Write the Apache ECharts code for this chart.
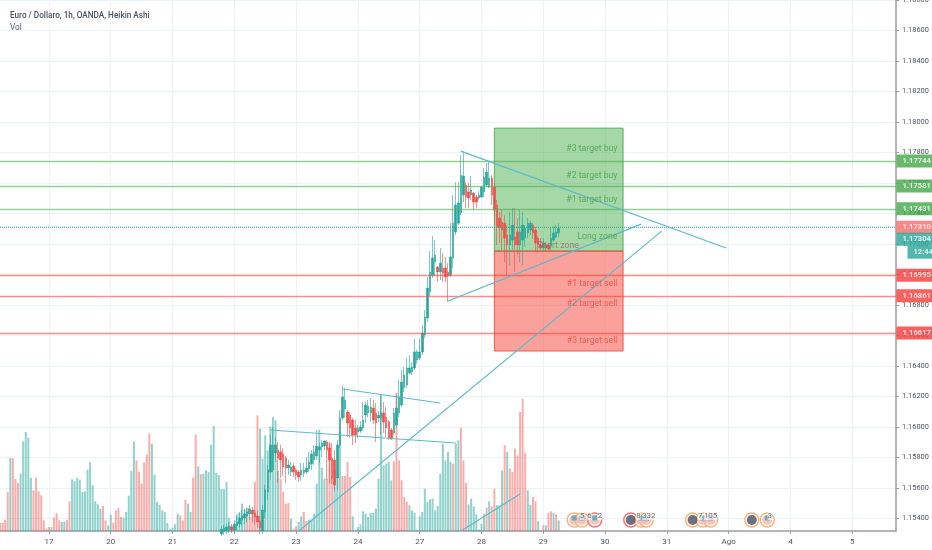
<!DOCTYPE html>
<html>
<head>
<meta charset="utf-8">
<style>html,body{margin:0;padding:0;background:#fff}#c{width:932px;height:550px}</style>
<script src="https://cdn.jsdelivr.net/npm/echarts@6/dist/echarts.min.js"></script>
</head>
<body>
<div id="c"></div>
<script>
const chartTitle = 'Euro / Dollaro, 1h, OANDA, Heikin Ashi';
const volumeTitle = 'Vol';
const dayLabels = {19:'17',43:'20',67:'21',91:'22',115:'23',139:'24',163:'27',187:'28',211:'29',235:'30',259:'31',283:'Ago',307:'4',331:'5'};
const barCount = 349;
const priceTicks = [1.188,1.186,1.184,1.182,1.18,1.178,1.176,1.174,1.172,1.17,1.168,1.166,1.164,1.162,1.16,1.158,1.156,1.154];

// hourly volume, relative units, starting at bar 0
const volumes = [24,24,34,117,219,219,156,144,172,269,297,280,160,122,160,119,107,32,7,12,12,41,53,32,27,28,34,89,155,149,160,154,117,119,184,206,137,89,80,67,75,32,17,49,25,62,69,42,40,57,106,180,269,212,178,142,206,230,292,262,168,87,79,62,57,24,5,10,20,52,47,32,94,82,57,160,289,194,170,172,182,177,259,315,174,168,126,125,147,39,17,19,50,54,82,64,70,42,55,147,347,307,217,287,242,314,342,332,180,157,117,82,84,37,7,14,27,44,57,30,34,34,52,142,304,190,157,157,264,162,184,165,297,165,165,207,162,44,2,12,20,59,52,42,55,54,67,157,407,197,202,207,152,209,414,212,152,102,87,77,62,55,4,44,57,127,87,95,97,62,75,172,262,212,237,207,202,262,272,310,212,144,80,97,74,50,5,22,52,70,89,74,127,77,77,182,257,237,188,177,247,227,357,397,235,122,79,102,89,29,1,17,17,55,59,54,50,32];
const volumeDirs = 'rrrrgrrrgggggrrrrrrrgrrrggrrggggggggggggrrggrrrrgggggrrrrrrgggggggggggrrrggrrgrgggggggggggggggggrrrrrggggggggrrrrgrrggrrgggggggrrrgggrrrrggggggggggggggggrrrrrrgggggggggggggggggrggrrrgggggggrgrrgggrgrrrrrrrggrrggrgrrgrgggrgggg';

// Heikin Ashi candles [open, close, low, high]; first candle is at bar candleStart
const candleStart = 86;
const candles = [
[1.15300,1.15332,1.15287,1.15352],[1.15313,1.15339,1.15293,1.15359],[1.15319,1.15346,1.15300,1.15365],[1.15326,1.15352,1.15306,1.15378],[1.15346,1.15326,1.15306,1.15365],
[1.15326,1.15365,1.15313,1.15391],[1.15352,1.15378,1.15326,1.15417],[1.15365,1.15404,1.15339,1.15444],[1.15391,1.15417,1.15352,1.15457],[1.15404,1.15431,1.15365,1.15464],
[1.15417,1.15444,1.15378,1.15470],[1.15431,1.15464,1.15391,1.15490],[1.15457,1.15431,1.15378,1.15477],[1.15437,1.15411,1.15359,1.15457],[1.15417,1.15378,1.15339,1.15450],
[1.15385,1.15339,1.15300,1.15417],[1.15319,1.15457,1.15300,1.15490],[1.15444,1.15588,1.15404,1.15621],[1.15575,1.15719,1.15523,1.15752],[1.15706,1.15883,1.15654,1.15949],
[1.15719,1.15883,1.15706,1.16001],[1.15831,1.15883,1.15772,1.15935],[1.15850,1.15798,1.15634,1.15903],[1.15837,1.15785,1.15667,1.15883],[1.15824,1.15739,1.15680,1.15863],
[1.15798,1.15732,1.15634,1.15811],[1.15732,1.15752,1.15686,1.15785],[1.15706,1.15739,1.15680,1.15772],[1.15745,1.15706,1.15673,1.15765],[1.15719,1.15686,1.15654,1.15732],
[1.15706,1.15673,1.15641,1.15719],[1.15686,1.15719,1.15647,1.15765],[1.15699,1.15719,1.15673,1.15765],[1.15706,1.15732,1.15693,1.15804],[1.15726,1.15772,1.15706,1.15837],
[1.15759,1.15824,1.15719,1.15850],[1.15785,1.15837,1.15752,1.15883],[1.15811,1.15876,1.15785,1.15981],[1.15850,1.15870,1.15765,1.15896],[1.15870,1.15896,1.15804,1.15916],
[1.15876,1.15909,1.15850,1.15916],[1.15903,1.15850,1.15654,1.15916],[1.15863,1.15785,1.15634,1.15903],[1.15798,1.15667,1.15627,1.15896],[1.15785,1.15621,1.15581,1.15850],
[1.15667,1.15883,1.15588,1.15916],[1.15883,1.16060,1.15863,1.16112],[1.16060,1.16198,1.16047,1.16270],[1.16119,1.16178,1.16060,1.16257],[1.16099,1.16027,1.15935,1.16112],
[1.16079,1.15994,1.15929,1.16099],[1.16047,1.15949,1.15883,1.16060],[1.15994,1.15949,1.15896,1.16047],[1.15968,1.15994,1.15929,1.16014],[1.15975,1.16001,1.15962,1.16040],
[1.15994,1.16047,1.15975,1.16165],[1.16079,1.16145,1.16027,1.16165],[1.16093,1.16139,1.16066,1.16178],[1.16093,1.16132,1.16034,1.16191],[1.16125,1.16047,1.16021,1.16178],
[1.16093,1.16027,1.15903,1.16158],[1.16060,1.16079,1.16034,1.16106],[1.16060,1.16093,1.15949,1.16211],[1.16093,1.16034,1.15962,1.16165],[1.16066,1.15994,1.15935,1.16132],
[1.16034,1.15929,1.15916,1.16047],[1.15981,1.15922,1.15916,1.15994],[1.15962,1.16093,1.15949,1.16125],[1.16014,1.16125,1.16001,1.16211],[1.16093,1.16198,1.16066,1.16309],
[1.16145,1.16296,1.16132,1.16374],[1.16257,1.16342,1.16230,1.16394],[1.16276,1.16388,1.16257,1.16453],[1.16355,1.16388,1.16342,1.16473],[1.16361,1.16394,1.16342,1.16427],
[1.16388,1.16493,1.16374,1.16578],[1.16440,1.16493,1.16414,1.16506],[1.16453,1.16493,1.16440,1.16578],[1.16493,1.16617,1.16473,1.16670],[1.16604,1.16722,1.16584,1.16768],
[1.16715,1.16912,1.16689,1.16984],[1.16886,1.17017,1.16859,1.17154],[1.16997,1.17108,1.16977,1.17252],[1.17082,1.17128,1.16990,1.17226],[1.17049,1.17017,1.16951,1.17056],
[1.17017,1.17075,1.16964,1.17174],[1.17043,1.17010,1.16951,1.17141],[1.17043,1.16984,1.16951,1.17115],[1.17017,1.16990,1.16820,1.17075],[1.16997,1.17115,1.16984,1.17337],
[1.17108,1.17337,1.17043,1.17521],[1.17279,1.17456,1.17259,1.17606],[1.17337,1.17469,1.17325,1.17606],[1.17403,1.17652,1.17390,1.17783],[1.17521,1.17646,1.17475,1.17810],
[1.17587,1.17508,1.17436,1.17606],[1.17541,1.17502,1.17436,1.17600],[1.17521,1.17554,1.17488,1.17646],[1.17534,1.17475,1.17423,1.17541],[1.17508,1.17475,1.17436,1.17521],
[1.17502,1.17521,1.17488,1.17547],[1.17508,1.17574,1.17502,1.17580],[1.17541,1.17639,1.17508,1.17698],[1.17587,1.17672,1.17574,1.17731],[1.17574,1.17633,1.17567,1.17744],
[1.17633,1.17521,1.17456,1.17652],[1.17574,1.17423,1.17325,1.17600],[1.17456,1.17311,1.17194,1.17488],[1.17370,1.17311,1.17207,1.17410],[1.17344,1.17292,1.17161,1.17423],
[1.17337,1.17239,1.17082,1.17390],[1.17259,1.17194,1.16997,1.17325],[1.17194,1.17259,1.17062,1.17410],[1.17226,1.17325,1.17161,1.17436],[1.17246,1.17194,1.17017,1.17436],
[1.17279,1.17194,1.17128,1.17370],[1.17194,1.17279,1.17082,1.17423],[1.17226,1.17325,1.17062,1.17410],[1.17239,1.17305,1.17181,1.17325],[1.17272,1.17337,1.17239,1.17370],
[1.17292,1.17337,1.17259,1.17351],[1.17325,1.17272,1.17233,1.17337],[1.17292,1.17207,1.17148,1.17311],[1.17239,1.17194,1.17141,1.17253],[1.17194,1.17174,1.17161,1.17239],
[1.17174,1.17207,1.17161,1.17239],[1.17194,1.17174,1.17148,1.17213],[1.17194,1.17168,1.17161,1.17207],[1.17194,1.17239,1.17161,1.17305],[1.17226,1.17272,1.17213,1.17319],
[1.17246,1.17279,1.17239,1.17325],[1.17272,1.17304,1.17246,1.17337]
];

// price levels
const buyLevels = [1.17744,1.17581,1.17431];
const sellLevels = [1.16995,1.16861,1.16617];
const pivotLevel = 1.1731;
const lastPrice = 1.17304;
const countdown = '12:44';

// long / short zones
const zoneBars = [192,242];
const longZone = [1.1796,1.17154];
const shortZone = [1.17154,1.16499];
const zoneNotes = [
  ['#3 target buy',240,1.17823,'buy'],['#2 target buy',240,1.17646,'buy'],['#1 target buy',240,1.17488,'buy'],['Long zone',240,1.17246,'buy'],
  ['Short zone',225,1.17187,'mid'],
  ['#1 target sell',240,1.16938,'sell'],['#2 target sell',240,1.16807,'sell'],['#3 target sell',240,1.16564,'sell']
];

// hand-drawn trend lines [bar, price] pairs
const trendLines = [
  [[179,1.17809],[282,1.17174]],
  [[174,1.16827],[249,1.17331]],
  [[116,1.15319],[257,1.17285]],
  [[133,1.16250],[171,1.16158]],
  [[105,1.15981],[177,1.15896]],
  [[179,1.15319],[202,1.15562]]
];

// calendar events on the time scale [bar, kind, ring colour]
const eventLevel = 33;
const eventMarks = [
  [223,'flag','#f5a35c'],[226,'flag','#f5a35c'],[231,'flag','#ef5350'],
  [245,'dark','#ef5350'],[249,'flag','#f5a35c'],[251,'flag','#f5a35c'],
  [269,'dark','#f5a35c'],[273,'flag','#f5a35c'],[276,'flag','#f5a35c'],
  [292,'dark','#f5a35c'],[298,'flag','#f5a35c']
];
const eventTexts = [[226,'5'],[229,'6'],[233,'2'],[248,'8'],[252,'332'],[272,'7'],[276,'105'],[299,'3']];

const UP = '#26a69a', DOWN = '#f44b47', GREY = '#50535e';
const FONT = 'Roboto, "Noto Sans", sans-serif';
const categories = Array.from({length: barCount}, (_, i) => String(i));
const candleData = categories.map((_, i) => {
  const c = candles[i - candleStart];
  return c ? c : '-';
});
const isDay = (i) => dayLabels[i] !== undefined;
const tagOf = (text, bg) => ({
  value: [barCount - 1, parseFloat(text)],
  label: {formatter: text, backgroundColor: bg}
});

const levelLine = (v, color, width, type, opacity) => ({
  yAxis: v, lineStyle: {color, width, type: type || 'solid', opacity: opacity == null ? 1 : opacity}
});

const option = {
  animation: false,
  backgroundColor: '#fff',
  title: [
    {text: chartTitle, left: 5, top: 7, textStyle: {fontFamily: FONT, fontSize: 8.2, fontWeight: 500, color: '#4c525e'}},
    {text: volumeTitle, left: 5, top: 19, textStyle: {fontFamily: FONT, fontSize: 8.2, fontWeight: 400, color: '#5a6070'}}
  ],
  grid: {left: 0, right: 36, top: 0, bottom: 19, containLabel: false, outerBoundsMode: 'none'},
  xAxis: {
    type: 'category', data: categories, boundaryGap: false,
    axisLine: {lineStyle: {color: '#9a9da5', width: 1.5}},
    axisTick: {interval: (i) => isDay(i), length: 3, lineStyle: {color: '#9a9da5'}},
    splitLine: {show: true, interval: (i) => isDay(i), lineStyle: {color: '#edf2f7', width: 1}},
    axisLabel: {
      interval: (i) => isDay(i), formatter: (v) => dayLabels[v] || '',
      color: GREY, fontSize: 8, fontFamily: FONT, margin: 7
    }
  },
  yAxis: [
    {
      type: 'value', position: 'right', min: 1.15319, max: 1.18800, scale: true,
      axisLine: {show: true, lineStyle: {color: '#9a9da5', width: 1.5}},
      axisTick: {show: true, length: 3, customValues: priceTicks, lineStyle: {color: '#9a9da5'}},
      splitLine: {show: true, lineStyle: {color: '#edf2f7', width: 1}},
      axisLabel: {
        customValues: priceTicks, formatter: (v) => v.toFixed(5),
        color: GREY, fontSize: 7.4, fontFamily: FONT, margin: 6,
        showMinLabel: true, showMaxLabel: true
      }
    },
    {type: 'value', min: 0, max: 1593, show: false}
  ],
  series: [
    {
      name: 'Vol', type: 'bar', yAxisIndex: 1, barWidth: 2, z: 1, silent: true,
      data: volumes.map((v, i) => ({
        value: v,
        itemStyle: {color: volumeDirs[i] === 'g' ? 'rgba(38,166,154,0.5)' : 'rgba(244,75,71,0.45)'}
      }))
    },
    {
      name: 'zones', type: 'line', yAxisIndex: 0, data: [], z: 2, silent: true,
      markArea: {
        silent: true, z: 2,
        data: [
          [{xAxis: String(zoneBars[0]), yAxis: longZone[0], itemStyle: {color: 'rgba(76,175,80,0.5)', borderColor: 'rgba(60,160,70,0.8)', borderWidth: 1}},
           {xAxis: String(zoneBars[1]), yAxis: longZone[1]}],
          [{xAxis: String(zoneBars[0]), yAxis: shortZone[0], itemStyle: {color: 'rgba(244,67,54,0.5)', borderColor: 'rgba(244,67,54,0.85)', borderWidth: 1}},
           {xAxis: String(zoneBars[1]), yAxis: shortZone[1]}]
        ]
      }
    },
    {
      name: 'EURUSD', type: 'candlestick', yAxisIndex: 0, barWidth: 2, z: 3, silent: true,
      data: candleData,
      itemStyle: {color: UP, color0: DOWN, borderColor: 'rgba(38,166,154,0.6)', borderColor0: 'rgba(244,75,71,0.6)', borderWidth: 1}
    },
    {
      name: 'levels', type: 'line', yAxisIndex: 0, data: [], z: 5, silent: true,
      markLine: {
        silent: true, symbol: 'none', z: 5, label: {show: false}, animation: false, precision: 5,
        data: [
          ...buyLevels.map((v) => levelLine(v, '#4caf50', 1.3, 'solid', 0.6)),
          ...sellLevels.map((v) => levelLine(v, '#f44336', 1.3, 'solid', 0.6))
        ]
      }
    },
    {
      name: 'pivot', type: 'line', yAxisIndex: 0, z: 5, silent: true, symbol: 'none',
      data: [[0, pivotLevel], [barCount - 1, pivotLevel]],
      lineStyle: {color: '#26a69a', width: 1, type: [1, 1]}
    },
    ...trendLines.map((pts, k) => ({
      name: 'trend' + k, type: 'line', yAxisIndex: 0, data: pts, z: 6, silent: true,
      symbol: 'none', lineStyle: {color: '#5fb9cb', width: 1.2}
    })),
    {
      name: 'notes', type: 'scatter', yAxisIndex: 0, z: 7, silent: true, clip: false,
      symbolSize: 1, itemStyle: {color: 'rgba(0,0,0,0)'},
      data: zoneNotes.map((n) => ({
        value: [n[1], n[2]],
        label: {
          show: true, position: 'left', distance: 0, formatter: n[0], fontFamily: FONT, fontSize: 8.7,
          color: n[3] === 'buy' ? '#46a24a' : n[3] === 'sell' ? '#f04a42' : '#9a6a66'
        }
      }))
    },
    {
      name: 'eventRings', type: 'scatter', yAxisIndex: 1, z: 8, silent: true, symbolSize: 14,
      data: eventMarks.map((e) => ({
        value: [e[0], eventLevel],
        itemStyle: {color: '#fff', borderColor: e[2], borderWidth: 1.5}
      }))
    },
    {
      name: 'eventCores', type: 'scatter', yAxisIndex: 1, z: 9, silent: true, symbolSize: 10,
      data: eventMarks.map((e) => ({
        value: [e[0], eventLevel],
        itemStyle: {color: e[1] === 'dark' ? '#4b4f5e' : '#f7b6ae'}
      }))
    },
    {
      name: 'eventFlags', type: 'scatter', yAxisIndex: 1, z: 10, silent: true, symbol: 'rect', symbolSize: [5, 5],
      data: eventMarks.filter((e) => e[1] === 'flag').map((e) => ({
        value: [e[0], eventLevel + 6], itemStyle: {color: '#49a7b8'}
      }))
    },
    {
      name: 'eventTexts', type: 'scatter', yAxisIndex: 1, z: 11, silent: true, clip: false,
      symbolSize: 1, itemStyle: {color: 'rgba(0,0,0,0)'},
      data: eventTexts.map((t) => ({
        value: [t[0], eventLevel + 12],
        label: {show: true, position: 'inside', formatter: t[1], fontFamily: FONT, fontSize: 8, color: '#4c525e', backgroundColor: 'rgba(255,255,255,0.85)'}
      }))
    },
    {
      name: 'tags', type: 'scatter', yAxisIndex: 0, z: 20, silent: true, clip: false,
      symbolSize: 1, itemStyle: {color: 'rgba(0,0,0,0)'},
      label: {
        show: true, position: 'right', distance: 0, fontFamily: FONT, fontSize: 7.6, fontWeight: 700,
        color: '#fff', width: 30, height: 13, lineHeight: 13, align: 'left', verticalAlign: 'middle', padding: [0, 0, 0, 6]
      },
      data: [
        ...buyLevels.map((v) => tagOf(v.toFixed(5), '#43a747')),
        ...sellLevels.map((v) => tagOf(v.toFixed(5), '#f53b38')),
        {value: [barCount - 1, pivotLevel], label: {formatter: pivotLevel.toFixed(5), backgroundColor: '#f96a66'}},
        {value: [barCount - 1, lastPrice], label: {formatter: lastPrice.toFixed(5), backgroundColor: UP, offset: [0, 11]}},
        {value: [barCount - 1, lastPrice], label: {formatter: countdown, backgroundColor: UP, width: 19, offset: [11, 24]}}
      ]
    }
  ]
};

const chart = echarts.init(document.getElementById('c'), null, {renderer: 'canvas'});
chart.setOption(option);
</script>
</body>
</html>
